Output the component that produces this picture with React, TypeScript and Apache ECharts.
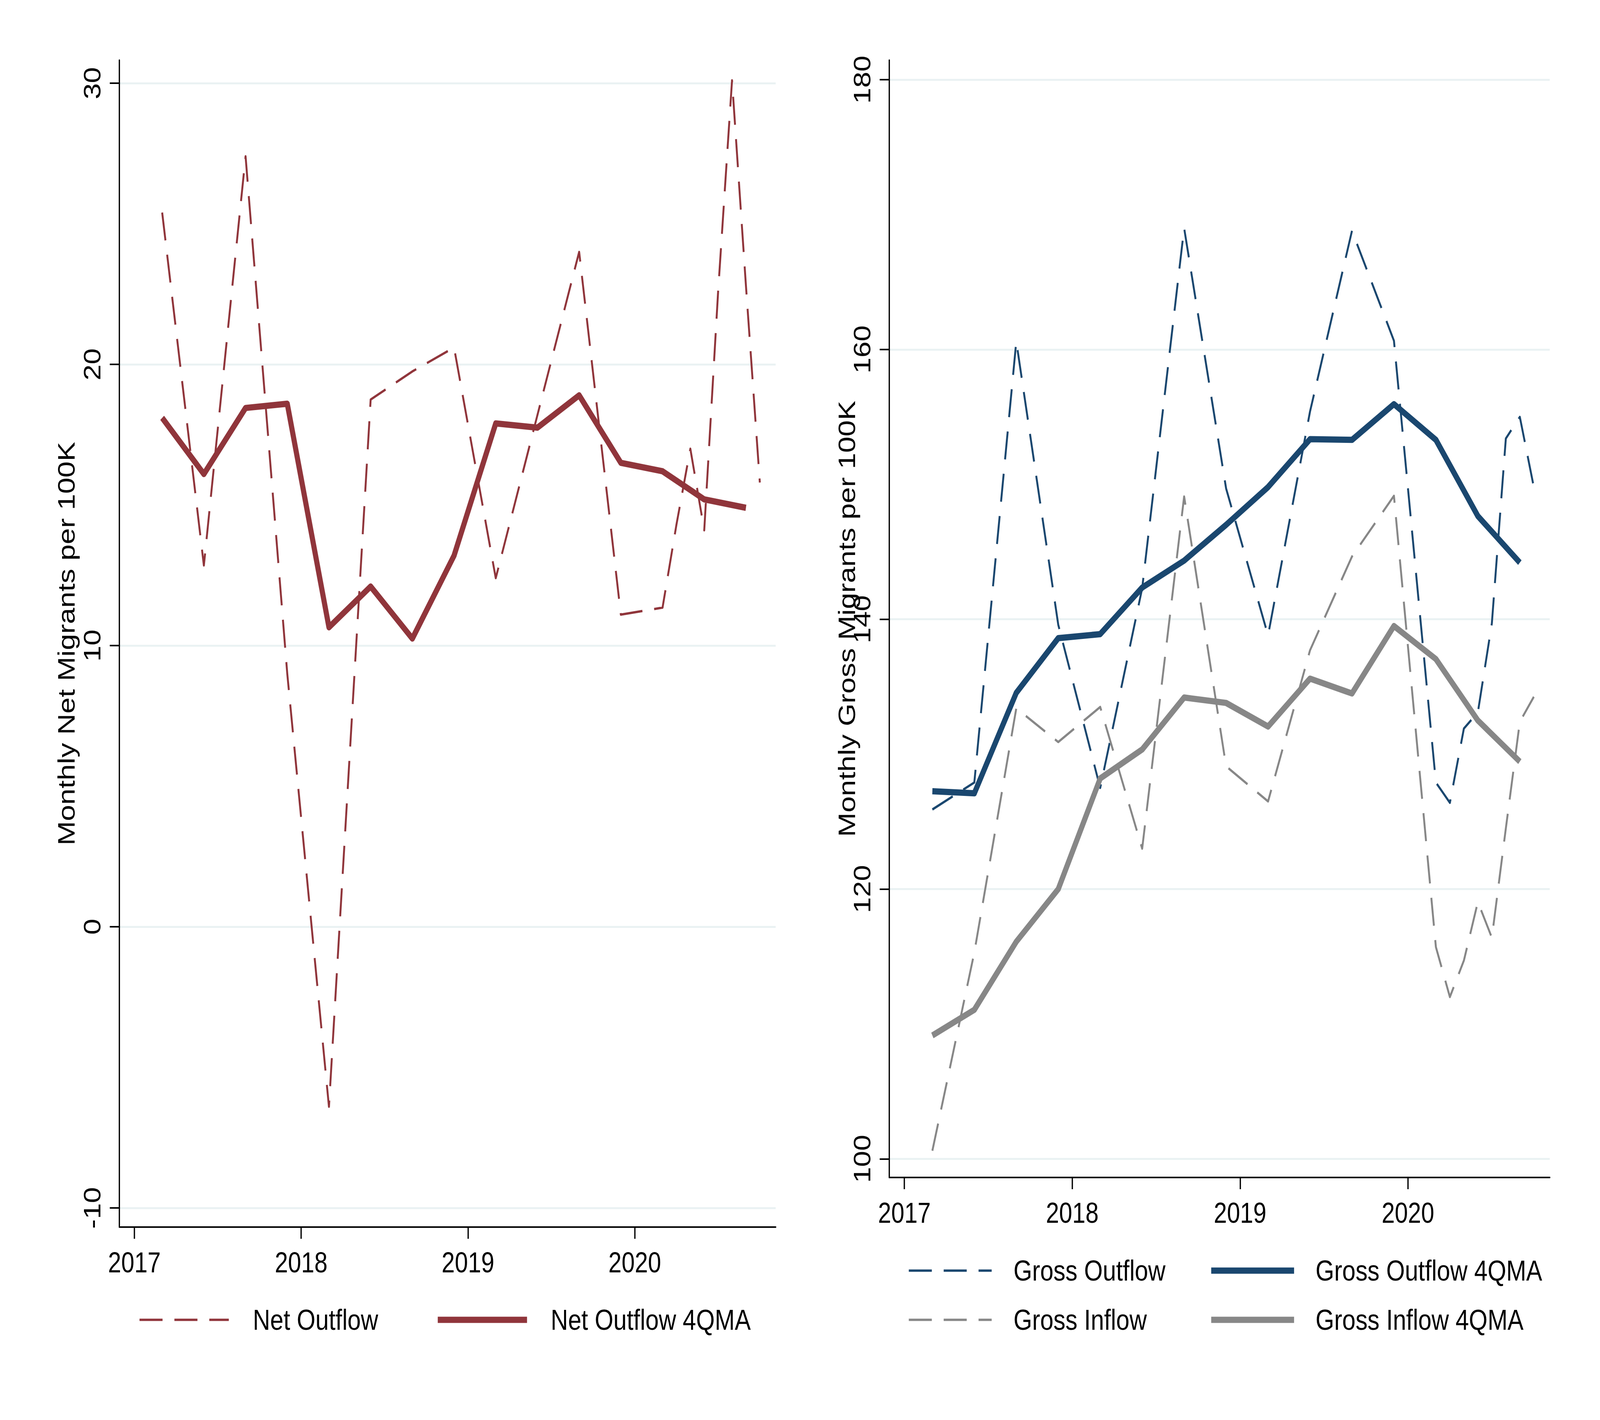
import React, { useEffect, useRef } from "react";
import * as echarts from "echarts";

const FONT = "'Liberation Sans', Arial, Helvetica, sans-serif";
const MAROON = "#90353B";
const NAVY = "#1A476F";
const GRAY = "#878787";
const GRID = "#EAF2F3";
const W = 5000;
const H = 3636;

// Observation months (YYYY-MM)
const QUARTER_MONTHS = [
  "2017-03", "2017-06", "2017-09", "2017-12",
  "2018-03", "2018-06", "2018-09", "2018-12",
  "2019-03", "2019-06", "2019-09", "2019-12",
  "2020-03", "2020-06", "2020-09",
];
const RAW_MONTHS = [
  "2017-03", "2017-06", "2017-09", "2017-12",
  "2018-03", "2018-06", "2018-09", "2018-12",
  "2019-03", "2019-06", "2019-09", "2019-12",
  "2020-03", "2020-04", "2020-05", "2020-06", "2020-07", "2020-08", "2020-09", "2020-10",
];

// Left panel: net migrants per 100K
const netOutflow = [25.4, 12.85, 27.4, 9.0, -6.4, 18.75, 19.75, 20.6, 12.4, 18.2, 24.0, 11.1, 11.35, 14.3, 17.0, 14.1, 22.6, 30.1, 22.8, 15.8];
const netOutflow4QMA = [18.1, 16.1, 18.45, 18.6, 10.65, 12.1, 10.25, 13.2, 17.9, 17.75, 18.9, 16.5, 16.2, 15.2, 14.9];

// Right panel: gross migrants per 100K
const grossOutflow = [125.9, 127.9, 160.6, 139.6, 127.5, 142.3, 169.0, 149.7, 138.8, 155.4, 168.8, 160.65, 127.9, 126.4, 131.9, 133.1, 139.7, 153.4, 155.0, 149.8];
const grossOutflow4QMA = [127.25, 127.1, 134.55, 138.6, 138.9, 142.35, 144.35, 147.0, 149.8, 153.35, 153.3, 155.95, 153.3, 147.65, 144.2];
const grossInflow = [100.6, 115.3, 133.4, 130.9, 133.5, 123.0, 149.1, 129.1, 126.5, 137.7, 144.65, 149.15, 115.7, 112.0, 114.7, 119.05, 116.4, 124.5, 132.4, 134.25];
const grossInflow4QMA = [109.15, 111.05, 116.1, 120.0, 128.2, 130.35, 134.2, 133.8, 132.05, 135.6, 134.5, 139.5, 137.05, 132.5, 129.45];

// Tick labels
const xTicks = [2017, 2018, 2019, 2020];
const netTicks = [-10, 0, 10, 20, 30];
const grossTicks = [100, 120, 140, 160, 180];

const toYear = (s: string) => {
  const [y, m] = s.split("-").map(Number);
  return y + (m - 1) / 12;
};
const pairs = (months: string[], vals: number[]) => months.map((m, i) => [toYear(m), vals[i]]);

function xAxis(gridIndex: number) {
  return {
    type: "value",
    gridIndex,
    min: 2016.91,
    max: 2020.845,
    axisLine: { show: true, onZero: false, lineStyle: { color: "#000", width: 4 } },
    axisTick: { show: true, inside: false, length: 30, customValues: xTicks, lineStyle: { color: "#000", width: 4 } },
    axisLabel: {
      customValues: xTicks,
      margin: 53,
      fontSize: 74,
      color: "#000",
      fontFamily: FONT,
      formatter: (v: number) => String(Math.round(v)),
    },
    splitLine: { show: false },
  };
}

function yAxis(gridIndex: number, min: number, max: number, ticks: number[], name: string, nameGap: number) {
  return {
    type: "value",
    gridIndex,
    min,
    max,
    name,
    nameLocation: "middle",
    nameGap,
    nameRotate: 90,
    nameMoveOverlap: false,
    nameTextStyle: { fontSize: 75, color: "#000", fontFamily: FONT },
    axisLine: { show: true, onZero: false, lineStyle: { color: "#000", width: 4 } },
    axisTick: { show: true, inside: false, length: 30, customValues: ticks, lineStyle: { color: "#000", width: 4 } },
    axisLabel: {
      customValues: ticks,
      rotate: 90,
      margin: 48,
      fontSize: 74,
      color: "#000",
      fontFamily: FONT,
      formatter: (v: number) => String(Math.round(v)),
    },
    splitLine: { show: true, lineStyle: { color: GRID, width: 5 } },
  };
}

function lineSeries(name: string, xi: number, data: number[][], color: string, dashed: boolean, z: number) {
  return {
    name,
    type: "line",
    xAxisIndex: xi,
    yAxisIndex: xi,
    data,
    symbol: "none",
    z,
    itemStyle: { color },
    lineStyle: {
      color,
      width: dashed ? 6 : 16,
      type: dashed ? [72, 37] : "solid",
      cap: "butt",
      join: "round",
    },
  };
}

function legendItem(name: string, left: number, top: number, width: number, dashed: boolean, pad: number) {
  return {
    data: [name],
    left,
    top,
    orient: "horizontal",
    padding: 0,
    itemGap: 0,
    itemWidth: width,
    itemHeight: 80,
    selectedMode: false,
    itemStyle: { opacity: 0, borderWidth: 0 },
    lineStyle: { width: dashed ? 6 : 16, type: dashed ? [72, 37] : "solid", cap: "butt" },
    textStyle: { fontSize: 75, color: "#000", fontFamily: FONT, padding: [0, 0, 0, pad] },
  };
}

export default function App() {
  const ref = useRef<HTMLDivElement>(null);
  const vw = typeof window !== "undefined" ? window.innerWidth : W;
  const vh = typeof window !== "undefined" ? window.innerHeight : H;
  const sx = vw / W;
  const sy = vh / H;
  useEffect(() => {
    if (!ref.current) return;
    const chart = echarts.init(ref.current, undefined, { renderer: "svg", width: W, height: H });
    chart.setOption({
      animation: false,
      backgroundColor: "#fff",
      textStyle: { fontFamily: FONT },
      grid: [
        { left: 373, top: 154, width: 2051, height: 2988, outerBoundsMode: "none" },
        { left: 2779, top: 154, width: 2064, height: 2861, outerBoundsMode: "none" },
      ],
      xAxis: [xAxis(0), xAxis(1)],
      yAxis: [
        yAxis(0, -10.68, 30.82, netTicks, "Monthly Net Migrants per 100K", 128),
        yAxis(1, 98.62, 181.45, grossTicks, "Monthly Gross Migrants per 100K", 95),
      ],
      legend: [
        legendItem("Net Outflow", 433, 3342, 279, true, 70),
        legendItem("Net Outflow 4QMA", 1360, 3342, 279, false, 69),
        legendItem("Gross Outflow", 2837, 3216, 259, true, 63),
        legendItem("Gross Outflow 4QMA", 3777, 3216, 259, false, 62),
        legendItem("Gross Inflow", 2837, 3342, 259, true, 63),
        legendItem("Gross Inflow 4QMA", 3777, 3342, 259, false, 62),
      ],
      series: [
        lineSeries("Net Outflow", 0, pairs(RAW_MONTHS, netOutflow), MAROON, true, 2),
        lineSeries("Net Outflow 4QMA", 0, pairs(QUARTER_MONTHS, netOutflow4QMA), MAROON, false, 3),
        lineSeries("Gross Outflow", 1, pairs(RAW_MONTHS, grossOutflow), NAVY, true, 2),
        lineSeries("Gross Outflow 4QMA", 1, pairs(QUARTER_MONTHS, grossOutflow4QMA), NAVY, false, 3),
        lineSeries("Gross Inflow", 1, pairs(RAW_MONTHS, grossInflow), GRAY, true, 2),
        lineSeries("Gross Inflow 4QMA", 1, pairs(QUARTER_MONTHS, grossInflow4QMA), GRAY, false, 3),
      ],
    });
    return () => chart.dispose();
  }, []);
  return (
    <div
      style={{
        position: "absolute",
        left: 0,
        top: 0,
        width: vw,
        height: vh,
        overflow: "hidden",
        background: "#fff",
      }}
    >
      <div
        ref={ref}
        style={{
          width: W,
          height: H,
          transform: `scale(${sx}, ${sy})`,
          transformOrigin: "0 0",
          background: "#fff",
        }}
      />
    </div>
  );
}
